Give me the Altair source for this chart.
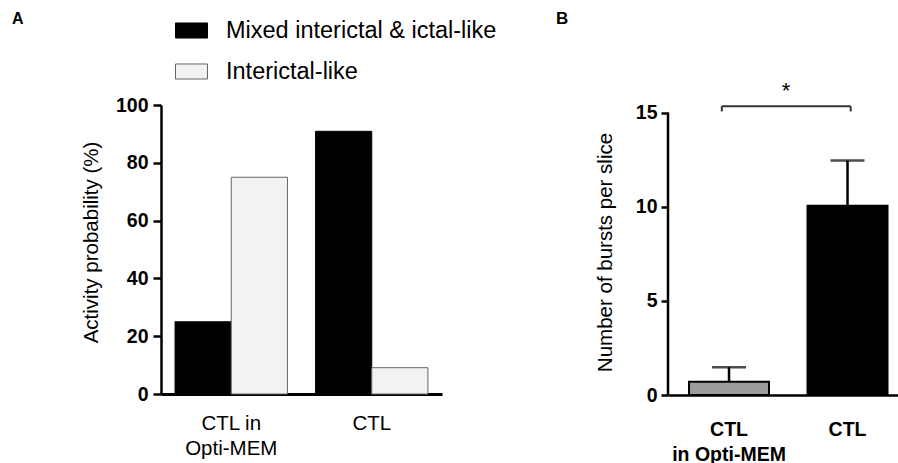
import altair as alt
import pandas as pd

FONT = "Liberation Sans"

# ---- Panel A data ----
groups = ["CTL in Opti-MEM", "CTL"]
series = ["Mixed interictal & ictal-like", "Interictal-like"]
mixed_pct = [25.0, 90.9]
interictal_pct = [75.0, 9.1]
a_ticks = [0, 20, 40, 60, 80, 100]

# ---- Panel B data ----
bursts_mean = [0.7, 10.05]
bursts_sem = [0.78, 2.4]
b_ticks = [0, 5, 10, 15]
sig_label = ["*"]
sig_y = [15.33]
sig_tick_low = [15.06]

panel_letters = ["A", "B"]

rowsA = []
for s, vals in zip(series, [mixed_pct, interictal_pct]):
    for g, v in zip(groups, vals):
        rowsA.append({"group": g, "series": s, "value": v})
dfA = pd.DataFrame(rowsA)

dfB = pd.DataFrame({
    "group": groups,
    "mean": bursts_mean,
    "upper": [m + s for m, s in zip(bursts_mean, bursts_sem)],
})
dfAxisB = pd.DataFrame({"lo": [min(b_ticks)], "hi": [max(b_ticks)]})
dfBr = pd.DataFrame({"from": [groups[0]], "to": [groups[1]], "y": sig_y,
                     "ylo": sig_tick_low, "label": sig_label})

# ---------------- Panel A ----------------
xA_scale = alt.Scale(domain=groups, paddingInner=0.2, paddingOuter=0.1)
barsA = alt.Chart(dfA).mark_bar(strokeWidth=1).encode(
    x=alt.X("group:N", sort=groups, scale=xA_scale,
            axis=alt.Axis(title=None, ticks=False, tickSize=0, labelAngle=0,
                          labelExpr="datum.value == 'CTL in Opti-MEM' ? ['CTL in', 'Opti-MEM'] : datum.value",
                          labelFontSize=20.5, labelFontWeight="normal", labelLineHeight=25,
                          labelPadding=19, domainWidth=3, domainColor="black")),
    xOffset=alt.XOffset("series:N", sort=series,
                        scale=alt.Scale(domain=series, paddingInner=0, paddingOuter=0)),
    y=alt.Y("value:Q", scale=alt.Scale(domain=[0, 100], nice=False),
            axis=alt.Axis(values=a_ticks, title="Activity probability (%)", titleY=137,
                          titleFontSize=20.5, titleFontWeight="normal", titlePadding=14,
                          labelFontSize=19.5, labelFontWeight="bold", labelPadding=5,
                          tickSize=8, tickWidth=2.5, tickColor="black",
                          domainWidth=2.5, domainColor="black", grid=False)),
    color=alt.Color("series:N", sort=series,
                    scale=alt.Scale(domain=series, range=["#000000", "#f2f2f2"]),
                    legend=alt.Legend(title=None, orient="none", legendX=14, legendY=-91,
                                      symbolType="M-1,-0.47L1,-0.47L1,0.47L-1,0.47Z",
                                      symbolSize=1024, symbolStrokeColor="#555555",
                                      symbolStrokeWidth=1, symbolOpacity=1,
                                      labelFontSize=23.5, labelFont=FONT, labelColor="black",
                                      labelLimit=500, labelOffset=18, rowPadding=13)),
    stroke=alt.Stroke("series:N", sort=series,
                      scale=alt.Scale(domain=series, range=["#000000", "#666666"]),
                      legend=None),
)
letterA = alt.Chart(pd.DataFrame({"t": [panel_letters[0]]})).mark_text(
    fontSize=16, font=FONT, fontWeight="bold", color="black", align="left", baseline="middle"
).encode(text="t:N", x=alt.value(-149), y=alt.value(-86))

panelA = alt.layer(barsA, letterA).properties(width=281, height=289)

# ---------------- Panel B ----------------
xB_scale = alt.Scale(domain=groups, paddingInner=0.325, paddingOuter=0.133, align=0.667)
yB_scale = alt.Scale(domain=[0, 15.4], nice=False)
xB = alt.X("group:N", sort=groups, scale=xB_scale,
           axis=alt.Axis(title=None, ticks=False, tickSize=0, labelAngle=0,
                         labelExpr="datum.value == 'CTL in Opti-MEM' ? ['CTL', 'in Opti-MEM'] : datum.value",
                         labelFontSize=19.5, labelFontWeight="bold", labelLineHeight=25,
                         labelPadding=25, domainWidth=2.5, domainColor="black"))
yB_axis = alt.Axis(values=b_ticks, title="Number of bursts per slice", titleY=147,
                   titleFontSize=20.5, titleFontWeight="normal", titlePadding=20,
                   labelFontSize=19.5, labelFontWeight="bold", labelPadding=4,
                   tickSize=7, tickWidth=2.5, tickColor="black", domain=False, grid=False)

barsB = alt.Chart(dfB).mark_bar(stroke="black", strokeWidth=2).encode(
    x=xB,
    y=alt.Y("mean:Q", scale=yB_scale, axis=yB_axis),
    color=alt.Color("group:N", scale=alt.Scale(domain=groups, range=["#9c9c9c", "#000000"]),
                    legend=None),
)
errB = alt.Chart(dfB).mark_rule(strokeWidth=2.5, color="black").encode(
    x=alt.X("group:N", sort=groups, scale=xB_scale),
    y=alt.Y("mean:Q", scale=yB_scale),
    y2="upper:Q",
)
capB = alt.Chart(dfB).mark_tick(size=34, thickness=2.5, color="black").encode(
    x=alt.X("group:N", sort=groups, scale=xB_scale),
    y=alt.Y("upper:Q", scale=yB_scale),
)
axisLineB = alt.Chart(dfAxisB).mark_rule(strokeWidth=2.5, color="black").encode(
    x=alt.value(0),
    y=alt.Y("lo:Q", scale=yB_scale),
    y2="hi:Q",
)
brH = alt.Chart(dfBr).mark_rule(strokeWidth=2, color="#333333").encode(
    x=alt.X("from:N", scale=xB_scale, bandPosition=0.41),
    x2=alt.X2("to:N", bandPosition=0.54),
    y=alt.Y("y:Q", scale=yB_scale),
)
brL = alt.Chart(dfBr).mark_rule(strokeWidth=2, color="#333333").encode(
    x=alt.X("from:N", scale=xB_scale, bandPosition=0.41),
    y=alt.Y("y:Q", scale=yB_scale),
    y2="ylo:Q",
)
brR = alt.Chart(dfBr).mark_rule(strokeWidth=2, color="#333333").encode(
    x=alt.X("to:N", scale=xB_scale, bandPosition=0.54),
    y=alt.Y("y:Q", scale=yB_scale),
    y2="ylo:Q",
)
star = alt.Chart(dfBr).mark_text(fontSize=22, font=FONT, color="black", dx=57,
                                 baseline="middle").encode(
    x=alt.X("from:N", scale=xB_scale),
    y=alt.Y("ys:Q", scale=yB_scale),
    text="label:N",
).transform_calculate(ys="datum.y + 0.8")
letterB = alt.Chart(pd.DataFrame({"t": [panel_letters[1]]})).mark_text(
    fontSize=17, font=FONT, fontWeight="bold", color="black", align="left", baseline="middle"
).encode(text="t:N", x=alt.value(-112), y=alt.value(-86))

panelB = alt.layer(barsB, errB, capB, axisLineB, brH, brL, brR, star, letterB).properties(
    width=230, height=290,
)

chart = alt.hconcat(panelA, panelB, spacing=226, bounds="flush").resolve_scale(
    color="independent", stroke="independent"
).properties(
    padding={"left": 12, "top": 10, "right": 0, "bottom": 0},
    background="white",
).configure(font=FONT).configure_view(stroke=None).configure_axis(
    labelColor="black", titleColor="black", labelFont=FONT, titleFont=FONT
)

chart.save("out.html", embed_options={"renderer": "svg", "actions": False})
